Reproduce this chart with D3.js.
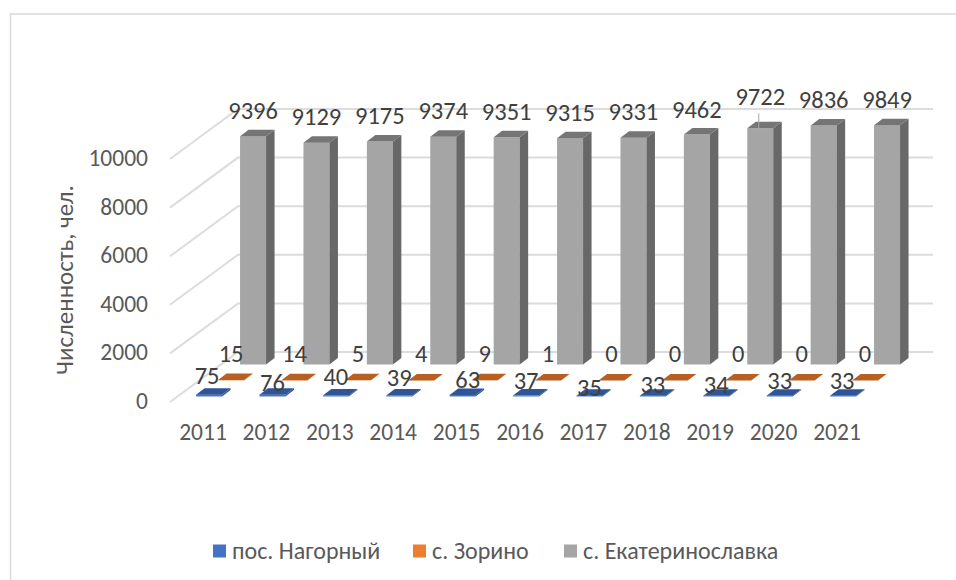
<!DOCTYPE html>
<html>
<head>
<meta charset="utf-8">
<script src="https://cdn.jsdelivr.net/npm/d3@7"></script>
<style>
  html, body { margin: 0; padding: 0; background: #fff; }
  svg { display: block; font-family: Carlito, "Open Sans", "Noto Sans", sans-serif; }
  .data-label { font-size: 24.5px; fill: #404040; text-anchor: middle; }
  .axis-label { font-size: 23.5px; fill: #595959; }
  .axis-title { font-size: 25px; fill: #595959; }
  .legend-label { font-size: 24px; fill: #595959; }
</style>
</head>
<body>
<div id="chart"></div>
<script>
'use strict';

const W = 956;
const H = 580;

const YEARS = ['2011', '2012', '2013', '2014', '2015', '2016', '2017', '2018', '2019', '2020', '2021'];
const NAGORNY = [75, 76, 40, 39, 63, 37, 35, 33, 34, 33, 33];
const ZORINO = [15, 14, 5, 4, 9, 1, 0, 0, 0, 0, 0];
const EKATER = [9396, 9129, 9175, 9374, 9351, 9315, 9331, 9462, 9722, 9836, 9849];
const Y_TICKS = [0, 2000, 4000, 6000, 8000, 10000];
const SERIES_NAMES = ['пос. Нагорный', 'с. Зорино', 'с. Екатеринославка'];
const SERIES_VALUES = [NAGORNY, ZORINO, EKATER];

// front, top, side face colours per series
const FACES = [
  { front: '#4472c4', top: '#2f5597', side: '#2f5597' },
  { front: '#ed7d31', top: '#b85f22', side: '#b85f22' },
  { front: '#a5a5a5', top: '#757575', side: '#686868' },
];

const svg = d3.select('#chart').append('svg').attr('width', W).attr('height', H);

// frame of the chart object, cut by the picture on the right and bottom
svg.append('path')
  .attr('d', `M10.5,${H} V14 H${W}`)
  .attr('fill', 'none')
  .attr('stroke', '#d9d9d9')
  .attr('stroke-width', 1.5);

const x = d3.scaleLinear().domain([0, YEARS.length]).range([176, 873.4]);
const y = d3.scaleLinear().domain([0, 10000]).range([400, 157]);
// depth goes up and to the right, one step per series row
const depthX = d3.scaleLinear().domain([0, 3]).range([0, 66]);
const depthY = d3.scaleLinear().domain([0, 3]).range([0, -48]);

const BAR_W = 26;
const BAR_DX = 8.5;
const BAR_DY = -6.5;
const BAR_START = 0.24; // bar offset inside its category slot
const FRONT_GAP = 0.22; // first row sits a little behind the axis

function project(xv, v, d) {
  return [x(xv) + depthX(d), y(v) + depthY(d)];
}

// walls: floor edge diagonals and the back gridlines
const grid = svg.append('g').attr('stroke', '#dcdcdc').attr('stroke-width', 2).attr('fill', 'none');
Y_TICKS.forEach(t => {
  const backY = y(t) + depthY(3);
  grid.append('path').attr('d', `M170,${y(t) + 2} L238,${backY} L933,${backY}`);
});

function drawBar(i, s) {
  const v = SERIES_VALUES[s][i];
  const f = FACES[s];
  const d = s + FRONT_GAP;
  const [xl, yt] = project(i + BAR_START, v, d);
  const [, yb] = project(i + BAR_START, 0, d);
  const xr = xl + BAR_W;
  const g = svg.append('g');
  g.append('rect').attr('x', xl).attr('y', yt).attr('width', BAR_W).attr('height', yb - yt).attr('fill', f.front);
  g.append('polygon').attr('fill', f.side)
    .attr('points', [[xr, yt], [xr + BAR_DX, yt + BAR_DY], [xr + BAR_DX, yb + BAR_DY], [xr, yb]].join(' '));
  g.append('polygon').attr('fill', f.top)
    .attr('points', [[xl, yt], [xl + BAR_DX, yt + BAR_DY], [xr + BAR_DX, yt + BAR_DY], [xr, yt]].join(' '));
}

// back row first so nearer rows paint over it
[2, 1, 0].forEach(s => YEARS.forEach((_, i) => drawBar(i, s)));

// data labels, several were dragged by hand in the original
const LABEL_LIFT = [-11, -18.5, -17.5];
const labelShift = {
  '0-0': [-2, 0], '0-1': [0, 7], '0-3': [0, 1], '0-4': [5, 4], '0-5': [0, 4], '0-6': [0, 11],
  '0-7': [0, 8], '0-8': [0, 8], '0-9': [0, 4], '0-10': [-1, 4],
  '2-7': [0, 1], '2-8': [0, -6],
};
SERIES_VALUES.forEach((vals, s) => {
  vals.forEach((v, i) => {
    const [xl, yt] = project(i + BAR_START, v, s + FRONT_GAP);
    const shift = labelShift[`${s}-${i}`] || [0, 0];
    if (s === 2 && i === 8) {
      // leader line of the moved label
      svg.append('line')
        .attr('x1', xl + 11.5).attr('x2', xl + 11.5)
        .attr('y1', yt - 15).attr('y2', yt + 2)
        .attr('stroke', '#a6a6a6').attr('stroke-width', 1);
    }
    svg.append('text').attr('class', 'data-label')
      .attr('x', xl + BAR_W / 2 + shift[0])
      .attr('y', yt + LABEL_LIFT[s] + shift[1])
      .text(v);
  });
});

// axes text
Y_TICKS.forEach(t => {
  svg.append('text').attr('class', 'axis-label')
    .attr('x', 148).attr('y', y(t) + 9).attr('text-anchor', 'end').text(t);
});
YEARS.forEach((yr, i) => {
  svg.append('text').attr('class', 'axis-label')
    .attr('x', x(i + 0.5) - 4.7).attr('y', 440).attr('text-anchor', 'middle').text(yr);
});
svg.append('text').attr('class', 'axis-title')
  .attr('transform', 'translate(73,280) rotate(-90)')
  .attr('text-anchor', 'middle').text('Численность, чел.');

// legend
const legendX = [213, 413, 564];
SERIES_NAMES.forEach((name, s) => {
  svg.append('rect').attr('x', legendX[s]).attr('y', 544.5).attr('width', 13).attr('height', 13).attr('fill', FACES[s].front);
  svg.append('text').attr('class', 'legend-label').attr('x', legendX[s] + 19).attr('y', 558.5).text(name);
});
</script>
</body>
</html>
